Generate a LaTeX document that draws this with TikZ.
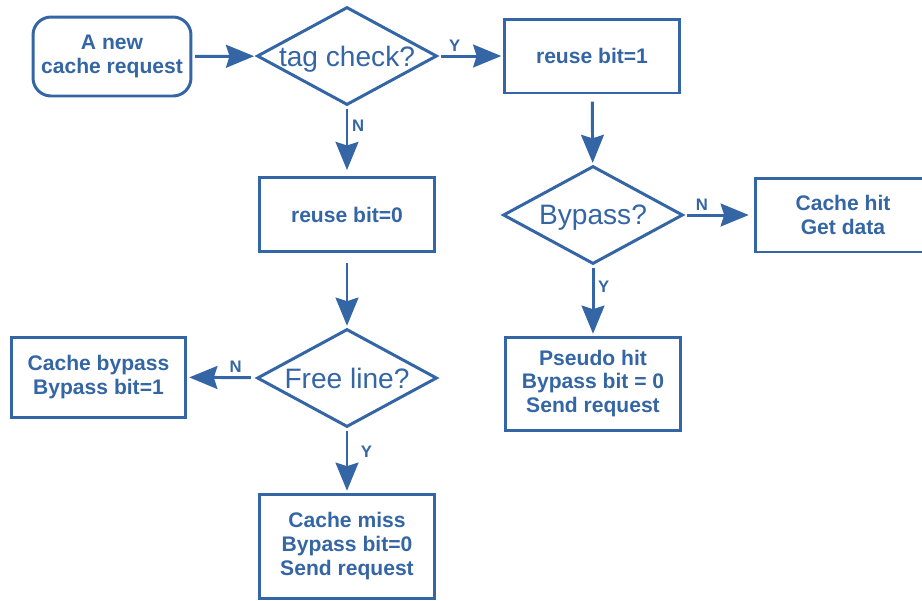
\documentclass[tikz,border=0pt]{standalone}
\usepackage{fontspec}
\setmainfont{Liberation Sans}
\usetikzlibrary{arrows.meta,shapes.geometric}
\definecolor{FlowBlue}{RGB}{52,101,164}
\tikzset{
  start/.style={draw=FlowBlue,rounded corners=0.36cm,line width=1.7pt,
    minimum width=3.16cm,minimum height=1.58cm,align=center,text=FlowBlue,
    font=\bfseries\fontsize{12}{13.5}\selectfont},
  process/.style={draw=FlowBlue,line width=1.7pt,minimum width=3.5cm,
    minimum height=1.48cm,align=center,text=FlowBlue,
    font=\bfseries\fontsize{12}{13.5}\selectfont},
  decision/.style={diamond,draw=FlowBlue,line width=1.7pt,aspect=1.84,
    inner sep=-1pt,minimum width=3.6cm,minimum height=1.96cm,text=FlowBlue,
    text depth=0pt,font=\fontsize{16}{18}\selectfont},
  arrow/.style={-{Stealth[length=16pt,width=13pt,inset=2pt]},line width=1.7pt,
    FlowBlue,shorten <=1.5pt,shorten >=1pt},
  answer/.style={text=FlowBlue,font=\bfseries\fontsize{9.5}{11}\selectfont,inner sep=2pt}
}
\begin{document}
\begin{tikzpicture}[x=0.02cm,y=-0.02cm]
  \useasboundingbox (0,0) rectangle (922,600);
  \node[start] (request) at (112,56.5) {A new\\cache request};
  \node[decision] (tagcheck) at (347,56) {tag check?};
  \node[process] (reuseone) at (592,56) {reuse bit=1};
  \node[decision] (bypasscheck) at (593,215) {Bypass?};
  \node[process] (cachehit) at (843,215) {Cache hit\\Get data};
  \node[process,minimum height=1.86cm] (pseudohit) at (593,383.5) {Pseudo hit\\Bypass bit = 0\\Send request};
  \node[process] (reusezero) at (347,214.5) {reuse bit=0};
  \node[decision] (freeline) at (347,378) {Free line?};
  \node[process,minimum height=1.6cm] (cachebypass) at (98.5,377) {Cache bypass\\Bypass bit=1};
  \node[process,minimum height=2.08cm] (cachemiss) at (347,546) {Cache miss\\Bypass bit=0\\Send request};

  \draw[arrow] (request) -- (tagcheck);
  \draw[arrow] (tagcheck) -- node[answer,pos=0.25,above] {Y} (reuseone);
  \draw[arrow,shorten <=4pt] (reuseone) -- (bypasscheck);
  \draw[arrow,shorten >=3pt] (bypasscheck) -- node[answer,pos=0.25,above] {N} (cachehit);
  \draw[arrow] (bypasscheck) -- node[answer,pos=0.3,right] {Y} (pseudohit);
  \draw[arrow,shorten >=3.4pt] (tagcheck) -- node[answer,pos=0.28,right] {N} (reusezero);
  \draw[arrow,shorten <=5.5pt] (reusezero) -- (freeline);
  \draw[arrow,shorten <=3pt] (freeline) -- node[answer,pos=0.3,above] {N} (cachebypass);
  \draw[arrow] (freeline) -- node[answer,pos=0.37,right=5pt] {Y} (cachemiss);
\end{tikzpicture}
\end{document}
